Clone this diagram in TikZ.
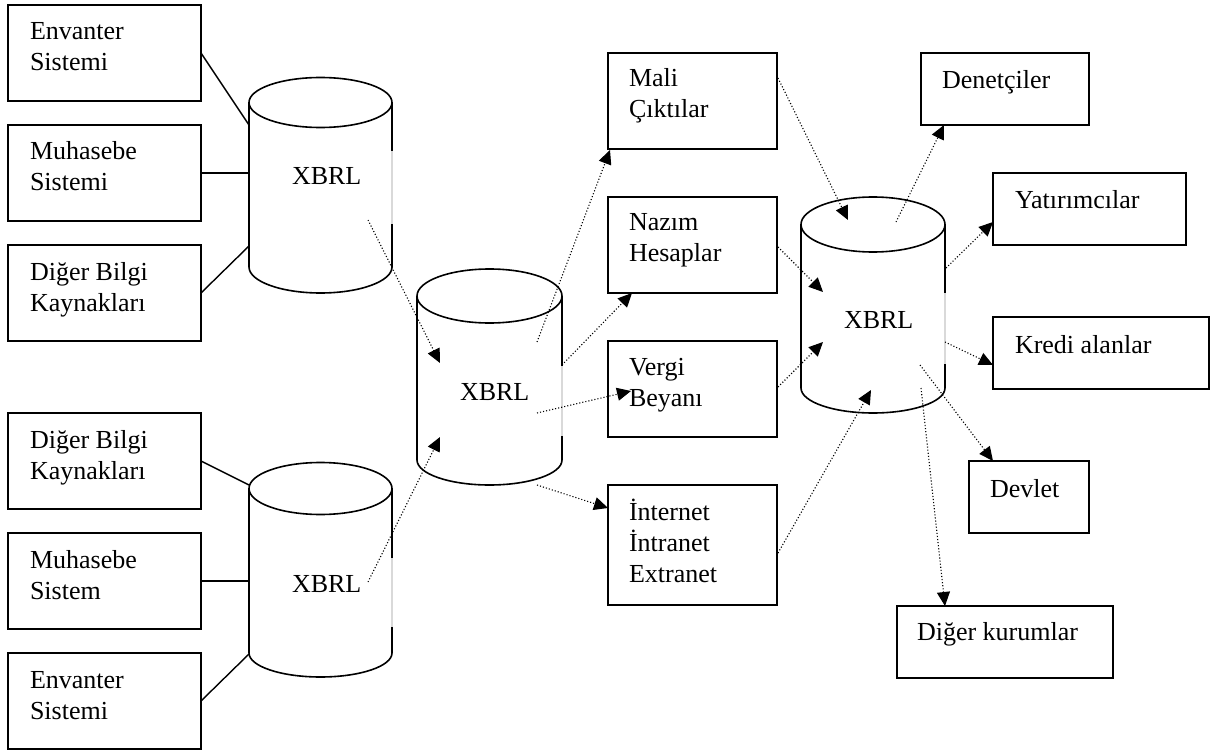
\documentclass[tikz,border=0pt]{standalone}
\usepackage{fontspec}
\setmainfont{Liberation Serif}
\usetikzlibrary{arrows.meta,calc}
\tikzset{
  box/.style={draw, line width=1.6pt, inner sep=0pt, outer sep=0pt},
  txt/.style={anchor=base west, inner sep=0pt, outer sep=0pt, font=\fontsize{26}{31}\selectfont},
  link/.style={line width=1.4pt},
  flow/.style={line width=1.1pt, dash pattern=on 1.1pt off 2pt, -{Triangle[length=14pt,width=13pt]}},
  cylline/.style={line width=1.6pt},
  gapline/.style={line width=2.2pt, black!15},
}
\newcommand\twolines[2]{\parbox[t]{200pt}{#1\\#2}}
\newcommand\dbcyl[6]{%
  \draw[cylline] ({#1-#2},#3) -- ({#1-#2},#4) arc[start angle=180, end angle=0, x radius=#2, y radius=#6] -- ({#1+#2},#3);
  \draw[cylline] (#1,#3) ellipse[x radius=#2, y radius=#5];
}
\begin{document}
\begin{tikzpicture}[x=1pt,y=-1pt]
\useasboundingbox (0,0) rectangle (1226,754);

% ---------- left boxes ----------
\node[box, minimum width=193pt, minimum height=96pt] (e1) at (104.5,53) {};
\node[box, minimum width=193pt, minimum height=96pt] (m1) at (104.5,173) {};
\node[box, minimum width=193pt, minimum height=96pt] (d1) at (104.5,293) {};
\node[box, minimum width=193pt, minimum height=96pt] (d2) at (104.5,461) {};
\node[box, minimum width=193pt, minimum height=96pt] (m2) at (104.5,581) {};
\node[box, minimum width=193pt, minimum height=96pt] (e2) at (104.5,701) {};
\node[txt] (e1t) at (30,40) {\twolines{Envanter}{Sistemi}};
\node[txt] (m1t) at (30,160) {\twolines{Muhasebe}{Sistemi}};
\node[txt] (d1t) at (30,280) {\twolines{Diğer Bilgi}{Kaynakları}};
\node[txt] (d2t) at (30,448) {\twolines{Diğer Bilgi}{Kaynakları}};
\node[txt] (m2t) at (30,568) {\twolines{Muhasebe}{Sistem}};
\node[txt] (e2t) at (30,688) {\twolines{Envanter}{Sistemi}};

% ---------- middle boxes ----------
\node[box, minimum width=169pt, minimum height=96pt] (mali) at (692.5,101) {};
\node[box, minimum width=169pt, minimum height=96pt] (nazim) at (692.5,245) {};
\node[box, minimum width=169pt, minimum height=96pt] (vergi) at (692.5,389) {};
\node[box, minimum width=169pt, minimum height=120pt] (inet) at (692.5,545) {};
\node[txt] (malit) at (629,87) {\twolines{Mali}{Çıktılar}};
\node[txt] (nazimt) at (629,231) {\twolines{Nazım}{Hesaplar}};
\node[txt] (vergit) at (629,375) {\twolines{Vergi}{Beyanı}};
\node[txt] (inett) at (629,520) {\parbox[t]{200pt}{İnternet\\İntranet\\Extranet}};

% ---------- right boxes ----------
\node[box, minimum width=168pt, minimum height=72pt] (denet) at (1005,89) {};
\node[box, minimum width=193pt, minimum height=72pt] (yat) at (1089.5,209) {};
\node[box, minimum width=216pt, minimum height=72pt] (kredi) at (1101,353) {};
\node[box, minimum width=120pt, minimum height=72pt] (devlet) at (1029,497) {};
\node[box, minimum width=216pt, minimum height=72pt] (diger) at (1005,642) {};
\node[txt] (denett) at (942,89) {Denetçiler};
\node[txt] (yatt) at (1015,209) {Yatırımcılar};
\node[txt] (kredit) at (1015,353) {Kredi alanlar};
\node[txt] (devlett) at (990,497) {Devlet};
\node[txt] (digert) at (917,640) {Diğer kurumlar};

% ---------- cylinders ----------
\dbcyl{320.5}{71.5}{102.5}{267}{25}{26}
\dbcyl{320.5}{71.5}{488.5}{653}{26}{24}
\dbcyl{489.5}{72.5}{296}{460}{27}{25}
\dbcyl{873}{72}{224.5}{388}{27.5}{25}
\draw[gapline] (392,151) -- (392,224);
\draw[gapline] (392,558) -- (392,627);
\draw[gapline] (562,366) -- (562,436);
\draw[gapline] (945,293) -- (945,364);
\node[txt] (c1) at (292,185) {XBRL};
\node[txt] (c4) at (292,592) {XBRL};
\node[txt] (c2) at (460,400) {XBRL};
\node[txt] (c3) at (844,328) {XBRL};

% ---------- cylinder points ----------
\coordinate (c1l1) at (249,125);
\coordinate (c1l2) at (249,173);
\coordinate (c1l3) at (249,246);
\coordinate (c4l1) at (249,485);
\coordinate (c4l2) at (249,581);
\coordinate (c4l3) at (249,654);
\coordinate (c1out) at (368,220);
\coordinate (c4out) at (368,582);
\coordinate (c2in1) at (440,363);
\coordinate (c2in2) at (440,437);
\coordinate (c2o1) at (537,342);
\coordinate (c2o2) at (562,365);
\coordinate (c2o3) at (537,413);
\coordinate (c2o4) at (537,485);
\coordinate (c3i1) at (848,220);
\coordinate (c3i2) at (823,292);
\coordinate (c3i3) at (823,342);
\coordinate (c3i4) at (871,390);
\coordinate (c3o1) at (896,222);
\coordinate (c3o2) at (946,268);
\coordinate (c3o3) at (945,342);
\coordinate (c3o4) at (920,365);
\coordinate (c3o5) at (921,388);

% ---------- solid links ----------
\draw[link] (e1.east) -- (c1l1);
\draw[link] (m1.east) -- (c1l2);
\draw[link] (d1.east) -- (c1l3);
\draw[link] (d2.east) -- (c4l1);
\draw[link] (m2.east) -- (c4l2);
\draw[link] (e2.east) -- (c4l3);

% ---------- dotted arrows ----------
\draw[flow] (c1out) -- (c2in1);
\draw[flow] (c4out) -- (c2in2);
\draw[flow] (c2o1) -- ($(mali.south west)+(2,1)$);
\draw[flow] (c2o2) -- ($(nazim.south west)+(24,0)$);
\draw[flow] (c2o3) -- ($(vergi.west)+(23,2)$);
\draw[flow] (c2o4) -- ($(inet.north west)+(0,23)$);
\draw[flow] ($(mali.north east)+(1,25)$) -- (c3i1);
\draw[flow] ($(nazim.east)+(1,2)$) -- (c3i2);
\draw[flow] ($(vergi.east)+(1,-2)$) -- (c3i3);
\draw[flow] ($(inet.east)+(1,8)$) -- (c3i4);
\draw[flow] (c3o1) -- ($(denet.south west)+(23,0)$);
\draw[flow] (c3o2) -- ($(yat.west)+(0,13)$);
\draw[flow] (c3o3) -- ($(kredi.west)+(0,12)$);
\draw[flow] (c3o4) -- ($(devlet.north west)+(24,0)$);
\draw[flow] (c3o5) -- ($(diger.north west)+(48,0)$);
\end{tikzpicture}
\end{document}
